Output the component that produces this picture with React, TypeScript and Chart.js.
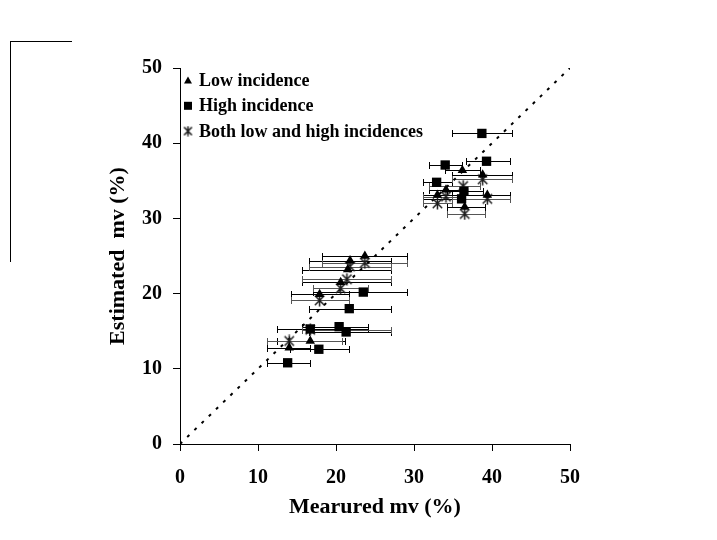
import React, { useEffect, useRef } from "react";
import { Chart, registerables } from "chart.js";

Chart.register(...registerables);

// ---- data ----
const lowX = [36.2, 38.8, 34.1, 33.0, 39.4, 36.5, 23.7, 21.8, 21.5, 20.6, 17.9, 16.7, 14.0];
const lowY = [36.4, 35.8, 33.8, 33.1, 33.1, 31.5, 25.0, 24.4, 23.2, 21.5, 19.9, 13.7, 12.8];
const lowXMin = [34.0, 34.9, 31.9, 31.1, 34.9, 34.2, 18.2, 16.5, 15.7, 15.7, 14.2, 12.4, 11.2];
const lowXMax = [38.4, 42.6, 36.2, 34.9, 42.3, 39.1, 29.1, 27.1, 27.1, 27.1, 21.7, 21.1, 16.7];

const highX = [38.7, 39.3, 34.0, 32.9, 36.4, 36.1, 23.5, 21.7, 16.7, 20.4, 21.3, 17.8, 13.8];
const highY = [41.3, 37.6, 37.1, 34.8, 33.6, 32.6, 20.2, 18.0, 15.3, 15.6, 14.9, 12.6, 10.8];
const highXMin = [34.9, 36.7, 31.9, 31.1, 34.2, 31.1, 17.1, 16.5, 12.4, 15.6, 16.5, 14.1, 11.2];
const highXMax = [42.6, 42.3, 36.2, 34.9, 38.9, 42.3, 29.1, 27.1, 24.1, 24.1, 27.1, 21.7, 16.7];

const bothX = [38.8, 36.3, 34.1, 33.0, 39.4, 36.5, 23.7, 21.8, 21.4, 20.6, 17.9, 16.7, 14.0];
const bothY = [35.2, 34.3, 32.9, 32.0, 32.6, 30.6, 24.1, 23.6, 21.9, 20.7, 19.1, 15.2, 13.7];
const bothXMin = [34.9, 31.9, 31.1, 31.1, 34.9, 34.2, 18.2, 16.5, 15.7, 17.1, 14.2, 15.7, 11.2];
const bothXMax = [42.6, 38.4, 36.2, 34.9, 42.3, 39.1, 29.1, 27.1, 27.1, 24.1, 21.7, 27.1, 20.8];

const seriesLabels = ["Low incidence", "High incidence", "Both low and high incidences"];
const lineX = [0, 50];
const lineY = [0, 50];
const axisMin = 0;
const axisMax = 50;
const tickStep = 10;
const xTitle = "Mearured mv (%)";
const yTitle = "Estimated  mv (%)";

const FONT = "'Liberation Serif', 'Times New Roman', serif";

function makeStar(size: number, color: string): HTMLCanvasElement {
  const c = document.createElement("canvas");
  c.width = size;
  c.height = size;
  const g = c.getContext("2d")!;
  g.strokeStyle = color;
  g.lineWidth = 1.5;
  const m = size / 2;
  const d = size * 0.36;
  g.beginPath();
  g.moveTo(m - d, m - d);
  g.lineTo(m + d, m + d);
  g.moveTo(m + d, m - d);
  g.lineTo(m - d, m + d);
  g.moveTo(m, 0.5);
  g.lineTo(m, size - 0.5);
  g.stroke();
  return c;
}

const pts = (xs: number[], ys: number[]) => xs.map((x, i) => ({ x, y: ys[i] }));

export default function App() {
  const ref = useRef<HTMLCanvasElement | null>(null);

  useEffect(() => {
    const canvas = ref.current;
    if (!canvas) return;
    const star = makeStar(13, "#1a1a1a");
    const legendStar = makeStar(11, "#1a1a1a");

    const errs: { [k: number]: { min: number[]; max: number[]; color: string } } = {
      1: { min: lowXMin, max: lowXMax, color: "#000" },
      2: { min: highXMin, max: highXMax, color: "#000" },
      3: { min: bothXMin, max: bothXMax, color: "#555" },
    };

    const errorBars = {
      id: "errorBars",
      beforeDatasetsDraw(chart: any) {
        const { ctx, scales } = chart;
        const xs = scales.x;
        const ys = scales.y;
        Object.keys(errs).forEach((k) => {
          const idx = Number(k);
          const e = errs[idx];
          const data = chart.data.datasets[idx].data as { x: number; y: number }[];
          ctx.save();
          ctx.strokeStyle = e.color;
          ctx.lineWidth = 1;
          data.forEach((p, j) => {
            const py = Math.round(ys.getPixelForValue(p.y)) + 0.5;
            const x1 = Math.round(xs.getPixelForValue(e.min[j])) + 0.5;
            const x2 = Math.round(xs.getPixelForValue(e.max[j])) + 0.5;
            ctx.beginPath();
            ctx.moveTo(x1, py);
            ctx.lineTo(x2, py);
            ctx.moveTo(x1, py - 3.5);
            ctx.lineTo(x1, py + 3.5);
            ctx.moveTo(x2, py - 3.5);
            ctx.lineTo(x2, py + 3.5);
            ctx.stroke();
          });
          ctx.restore();
        });
      },
    };

    const legendPlugin = {
      id: "customLegend",
      afterDraw(chart: any) {
        const { ctx, chartArea } = chart;
        const x0 = chartArea.left + 8;
        const y0 = chartArea.top + 12.5;
        const gap = 25.3;
        ctx.save();
        ctx.font = `bold 18px ${FONT}`;
        ctx.fillStyle = "#000";
        ctx.textBaseline = "middle";
        ctx.textAlign = "left";
        seriesLabels.forEach((lab, i) => {
          const cy = y0 + i * gap;
          if (i === 0) {
            ctx.beginPath();
            ctx.moveTo(x0, cy - 4);
            ctx.lineTo(x0 + 4, cy + 3);
            ctx.lineTo(x0 - 4, cy + 3);
            ctx.closePath();
            ctx.fill();
          } else if (i === 1) {
            ctx.fillRect(x0 - 4, cy - 4, 8, 8);
          } else {
            ctx.drawImage(legendStar, x0 - 5.5, cy - 5.5);
          }
          ctx.fillText(lab, x0 + 11, cy + 1);
        });
        ctx.restore();
      },
    };

    const chart = new Chart(canvas, {
      type: "scatter",
      data: {
        datasets: [
          {
            type: "line",
            label: "1:1",
            data: pts(lineX, lineY),
            borderColor: "#000",
            borderWidth: 2,
            borderDash: [3, 7],
            pointRadius: 0,
            showLine: true,
            fill: false,
            order: 4,
          } as any,
          {
            label: seriesLabels[0],
            data: pts(lowX, lowY),
            pointStyle: "triangle",
            pointRadius: 5.5,
            backgroundColor: "#000",
            borderColor: "#000",
            borderWidth: 0,
            order: 2,
          },
          {
            label: seriesLabels[1],
            data: pts(highX, highY),
            pointStyle: "rect",
            pointRadius: 6.6,
            backgroundColor: "#000",
            borderColor: "#000",
            borderWidth: 0,
            order: 1,
          },
          {
            label: seriesLabels[2],
            data: pts(bothX, bothY),
            pointStyle: star as any,
            pointRadius: 6,
            order: 3,
          },
        ],
      },
      options: {
        animation: false,
        responsive: false,
        events: [],
        layout: { padding: { left: 0, top: 68, right: 147, bottom: 0 } },
        plugins: {
          legend: { display: false },
          tooltip: { enabled: false },
        },
        scales: {
          x: {
            type: "linear",
            min: axisMin,
            max: axisMax,
            afterFit: (s: any) => {
              s.height = 96;
            },
            ticks: {
              stepSize: tickStep,
              color: "#000",
              padding: 15,
              font: { family: FONT, size: 20, weight: "bold" },
            },
            grid: { display: true, drawOnChartArea: false, drawTicks: true, tickLength: 7, color: "#000" },
            border: { display: true, color: "#000", width: 1 },
            title: {
              display: true,
              text: xTitle,
              color: "#000",
              font: { family: FONT, size: 22, weight: "bold" },
              padding: { top: 0, bottom: 19 },
            },
          },
          y: {
            type: "linear",
            min: axisMin,
            max: axisMax,
            afterFit: (s: any) => {
              s.width = 180;
            },
            ticks: {
              stepSize: tickStep,
              color: "#000",
              padding: 11,
              font: { family: FONT, size: 20, weight: "bold" },
            },
            grid: { display: true, drawOnChartArea: false, drawTicks: true, tickLength: 7, color: "#000" },
            border: { display: true, color: "#000", width: 1 },
            title: {
              display: true,
              text: yTitle,
              color: "#000",
              font: { family: FONT, size: 22, weight: "bold" },
              padding: { top: 105, bottom: 0 },
            },
          },
        },
      },
      plugins: [errorBars, legendPlugin],
    });

    return () => chart.destroy();
  }, []);

  return (
    <div style={{ position: "absolute", left: 0, top: 0, width: 717, height: 540, background: "#fff" }}>
      <div style={{ position: "absolute", left: 10, top: 41, width: 62, height: 0, borderTop: "1px solid #000" }} />
      <div style={{ position: "absolute", left: 10, top: 41, width: 0, height: 221, borderLeft: "1px solid #000" }} />
      <canvas ref={ref} width={717} height={540} style={{ position: "absolute", left: 0, top: 0 }} />
    </div>
  );
}
